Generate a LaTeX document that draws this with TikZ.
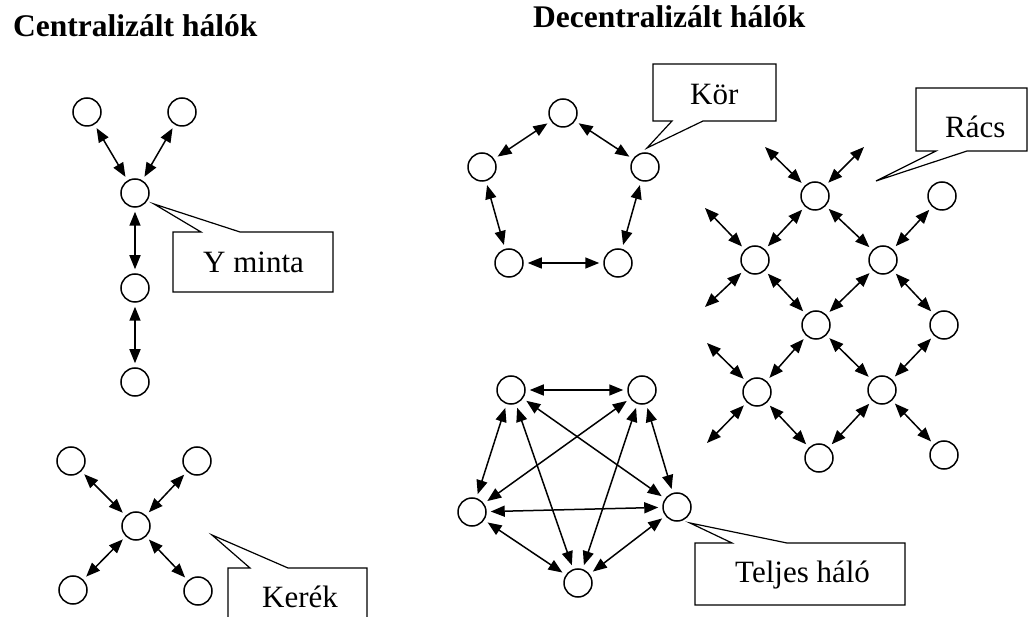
\documentclass[tikz,border=0pt]{standalone}
\usepackage{fontspec}
\setmainfont{Liberation Serif}
\usetikzlibrary{arrows.meta}
\begin{document}
\begin{tikzpicture}[x=1pt,y=-1pt,
  nd/.style={circle,draw,line width=1.5pt,minimum size=28pt,inner sep=0pt,fill=white},
  link/.style={line width=1.5pt,{Triangle[length=14pt,width=11pt]}-{Triangle[length=14pt,width=11pt]},shorten <=4pt,shorten >=4pt},
  freelink/.style={line width=1.5pt,{Triangle[length=14pt,width=11pt]}-{Triangle[length=14pt,width=11pt]},shorten <=4pt},
  callout/.style={draw,line width=1.2pt,fill=white,line join=miter},
  lbl/.style={anchor=base west,inner sep=0pt,font=\fontsize{31}{36}\selectfont},
  ttl/.style={anchor=base west,inner sep=0pt,font=\fontsize{31.5}{36}\selectfont\bfseries}]
\useasboundingbox (0,0) rectangle (1029,617);
% titles
\node[ttl] (t1) at (13,37) {Centralizált hálók};
\node[ttl] (t2) at (533,28) {Decentralizált hálók};
% Y pattern
\node[nd] (ya) at (87,112) {};
\node[nd] (yb) at (182,112) {};
\node[nd] (yc) at (135,193) {};
\node[nd] (yd) at (135,288) {};
\node[nd] (ye) at (135,382) {};
\draw[link] (ya) -- (yc);
\draw[link] (yb) -- (yc);
\draw[link] (yc) -- (yd);
\draw[link] (yd) -- (ye);
% Wheel
\node[nd] (ka) at (71,461) {};
\node[nd] (kb) at (197,461) {};
\node[nd] (kc) at (136,526) {};
\node[nd] (kd) at (73,590) {};
\node[nd] (ke) at (198,591) {};
\draw[link] (ka) -- (kc);
\draw[link] (kb) -- (kc);
\draw[link] (kd) -- (kc);
\draw[link] (ke) -- (kc);
% Circle
\node[nd] (pa) at (563,113) {};
\node[nd] (pb) at (482,167) {};
\node[nd] (pc) at (645,167) {};
\node[nd] (pd) at (509,263) {};
\node[nd] (pe) at (618,263) {};
\draw[link] (pa) -- (pb);
\draw[link] (pa) -- (pc);
\draw[link] (pb) -- (pd);
\draw[link] (pd) -- (pe);
\draw[link] (pc) -- (pe);
% Grid
\node[nd] (ga) at (815,196) {};
\node[nd] (gb) at (942,196) {};
\node[nd] (gc) at (755,260) {};
\node[nd] (gd) at (883,260) {};
\node[nd] (ge) at (816,325) {};
\node[nd] (gf) at (944,325) {};
\node[nd] (gg) at (757,392) {};
\node[nd] (gh) at (882,390) {};
\node[nd] (gi) at (819,458) {};
\node[nd] (gj) at (944,455) {};
\coordinate (fa1) at (765,147);
\coordinate (fa2) at (864,147);
\coordinate (fc1) at (705,208);
\coordinate (fc2) at (705,307);
\coordinate (fg1) at (707,343);
\coordinate (fg2) at (707,443);
\draw[freelink] (ga) -- (fa1);
\draw[freelink] (ga) -- (fa2);
\draw[freelink] (gc) -- (fc1);
\draw[freelink] (gc) -- (fc2);
\draw[freelink] (gg) -- (fg1);
\draw[freelink] (gg) -- (fg2);
\draw[link] (ga) -- (gc);
\draw[link] (ga) -- (gd);
\draw[link] (gb) -- (gd);
\draw[link] (gc) -- (ge);
\draw[link] (gd) -- (ge);
\draw[link] (gd) -- (gf);
\draw[link] (ge) -- (gg);
\draw[link] (ge) -- (gh);
\draw[link] (gf) -- (gh);
\draw[link] (gg) -- (gi);
\draw[link] (gh) -- (gi);
\draw[link] (gh) -- (gj);
% Complete network
\node[nd] (ta) at (511,390) {};
\node[nd] (tb) at (642,390) {};
\node[nd] (tc) at (472,512) {};
\node[nd] (td) at (677,507) {};
\node[nd] (te) at (578,583) {};
\draw[link] (ta) -- (tb);
\draw[link] (ta) -- (tc);
\draw[link] (ta) -- (td);
\draw[link] (ta) -- (te);
\draw[link] (tb) -- (tc);
\draw[link] (tb) -- (td);
\draw[link] (tb) -- (te);
\draw[link] (tc) -- (td);
\draw[link] (tc) -- (te);
\draw[link] (td) -- (te);
% Callouts
\coordinate (cy) at (154,204);
\draw[callout] (173,232) -- (201,232) -- (cy) -- (240,232) -- (333,232) -- (333,292) -- (173,292) -- cycle;
\node[lbl] (ly) at (203,273) {Y minta};
\coordinate (ck) at (212,535);
\draw[callout] (228,640) -- (228,568) -- (250,568) -- (ck) -- (288,568) -- (367,568) -- (367,640);
\node[lbl] (lk) at (262,607) {Kerék};
\coordinate (cp) at (647,148);
\draw[callout] (653,64) -- (776,64) -- (776,121) -- (703,121) -- (cp) -- (672,121) -- (653,121) -- cycle;
\node[lbl] (lp) at (690,105) {Kör};
\coordinate (cr) at (876,181);
\draw[callout] (916,88) -- (1027,88) -- (1027,151) -- (967,151) -- (cr) -- (936,151) -- (916,151) -- cycle;
\node[lbl] (lr) at (945,138) {Rács};
\coordinate (ct) at (690,523);
\draw[callout] (695,543) -- (732,543) -- (ct) -- (787,543) -- (905,543) -- (905,605) -- (695,605) -- cycle;
\node[lbl] (lt) at (735,583) {Teljes háló};
\end{tikzpicture}
\end{document}
